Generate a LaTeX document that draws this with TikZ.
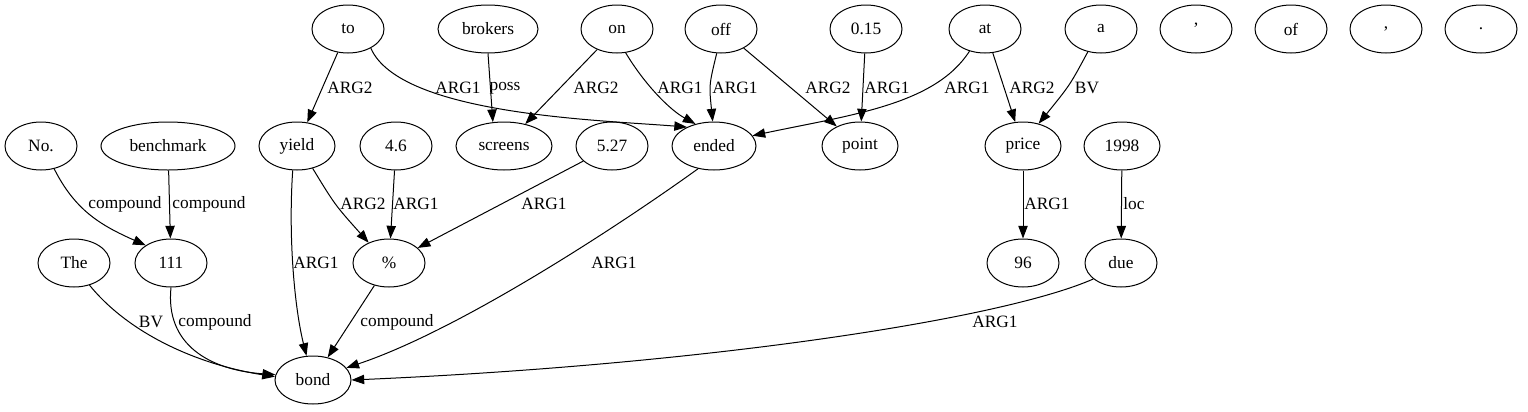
\documentclass[tikz,border=0pt]{standalone}
\usepackage{fontspec}
\setmainfont{Liberation Serif}
\usetikzlibrary{shapes.geometric,arrows.meta}
\begin{document}
\begin{tikzpicture}[x=0.75pt,y=-0.75pt,
 nd/.style={draw, ellipse, inner sep=0pt, minimum height=36pt, minimum width=54pt, line width=0.75pt, font=\fontsize{13}{15}\selectfont},
 ed/.style={draw, line width=0.75pt, -{Triangle[length=9.5pt,width=7pt]}},
 el/.style={font=\fontsize{13}{15}\selectfont, inner sep=0pt}]
\useasboundingbox (0,0) rectangle (1528,411);
% row 1
\node[nd] (to) at (348,29) {to};
\node[nd, minimum width=75pt] (brokers) at (488,29) {brokers};
\node[nd] (on) at (617,29) {on};
\node[nd] (off) at (721,29) {off};
\node[nd] (n015) at (866,29) {0.15};
\node[nd] (at) at (985,29) {at};
\node[nd] (a) at (1101,29) {a};
\node[nd] (apos) at (1196,29) {’};
\node[nd] (of) at (1291,29) {of};
\node[nd] (comma) at (1386,29) {,};
\node[nd] (period) at (1481,29) {.};
% row 2
\node[nd] (No) at (41,146) {No.};
\node[nd, minimum width=100.5pt] (benchmark) at (168,146) {benchmark};
\node[nd, minimum width=57pt] (yield) at (297,146) {yield};
\node[nd] (n46) at (396,146) {4.6};
\node[nd, minimum width=72pt] (screens) at (504,146) {screens};
\node[nd] (n527) at (612,146) {5.27};
\node[nd, minimum width=63pt] (ended) at (714,146) {ended};
\node[nd, minimum width=57pt] (point) at (860,146) {point};
\node[nd, minimum width=57pt] (price) at (1023,146) {price};
\node[nd, minimum width=57pt] (n1998) at (1122,146) {1998};
% row 3
\node[nd] (The) at (74,263) {The};
\node[nd] (n111) at (171,263) {111};
\node[nd] (pct) at (389,263) {\%};
\node[nd] (n96) at (1023,263) {96};
\node[nd] (due) at (1121,263) {due};
% row 4
\node[nd, minimum width=57pt] (bond) at (313,380) {bond};

% edges
\draw[ed] (to) -- (yield) node[el] at (350,88) {ARG2};
\draw[ed] (to.-40) .. controls (400,115) and (600,120) .. (ended.145) node[el] at (458,88) {ARG1};
\draw[ed] (brokers.south) -- (screens.115) node[el] at (505,88) {poss};
\draw[ed] (on) -- (screens) node[el] at (596,88) {ARG2};
\draw[ed] (on.-70) .. controls (645,85) and (670,110) .. (ended.130) node[el] at (680,88) {ARG1};
\draw[ed] (off.-100) .. controls (709,85) .. (ended.93) node[el] at (735,88) {ARG1};
\draw[ed] (off) -- (point) node[el] at (828,88) {ARG2};
\draw[ed] (n015) -- (point) node[el] at (887,88) {ARG1};
\draw[ed] (at.-125) .. controls (935,105) and (850,115) .. (ended.15) node[el] at (967,88) {ARG1};
\draw[ed] (at) -- (price) node[el] at (1032,88) {ARG2};
\draw[ed] (a.-120) .. controls (1070,85) .. (price.55) node[el] at (1087,88) {BV};
\draw[ed] (No.-60) .. controls (75,210) and (100,225) .. (n111.145) node[el] at (125,204) {compound};
\draw[ed] (benchmark) -- (n111) node[el] at (209,204) {compound};
\draw[ed] (yield.-55) .. controls (335,205) .. (pct.135) node[el] at (363,204) {ARG2};
\draw[ed] (n46) -- (pct) node[el] at (416,204) {ARG1};
\draw[ed] (n527) -- (pct) node[el] at (544,204) {ARG1};
\draw[ed] (price) -- (n96) node[el] at (1047,204) {ARG1};
\draw[ed] (n1998) -- (due) node[el] at (1134,204) {loc};
\draw[ed] (yield.-100) .. controls (288,240) and (295,310) .. (bond.105) node[el] at (316,263) {ARG1};
\draw[ed] (ended.-125) .. controls (620,225) and (460,330) .. (bond.20) node[el] at (614,263) {ARG1};
\draw[ed] (The.-55) .. controls (130,335) and (200,365) .. (bond.175) node[el] at (151,322) {BV};
\draw[ed] (n111.south) .. controls (165,345) and (210,370) .. (bond.172) node[el] at (215,322) {compound};
\draw[ed] (pct) -- (bond) node[el] at (397,322) {compound};
\draw[ed] (due.-150) .. controls (1000,320) and (700,365) .. (bond.east) node[el] at (995,322) {ARG1};
\end{tikzpicture}
\end{document}
